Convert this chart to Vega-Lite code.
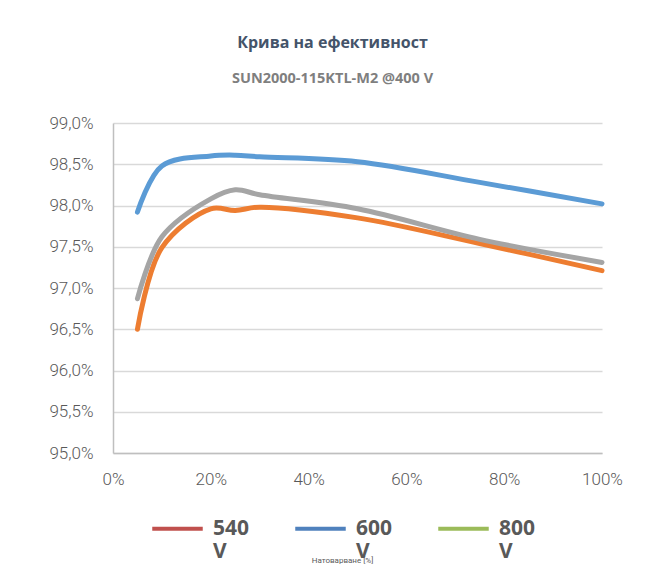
{
  "$schema": "https://vega.github.io/schema/vega-lite/v6.json",
  "width": 489,
  "height": 330,
  "autosize": {"type": "none"},
  "padding": {"left": 113, "top": 123, "right": 63, "bottom": 124},
  "background": "white",
  "title": {
    "text": "Крива на ефективност",
    "subtitle": "SUN2000-115KTL-M2 @400 V",
    "anchor": "middle",
    "frame": "group",
    "dx": -25,
    "offset": 29,
    "font": "Open Sans",
    "fontSize": 16,
    "fontWeight": "bold",
    "color": "#44546A",
    "subtitleFont": "Open Sans",
    "subtitleFontSize": 14.5,
    "subtitleFontWeight": "bold",
    "subtitleColor": "#7F7F7F",
    "subtitlePadding": 21
  },
  "data": {
    "values": [
      {"load": 5, "eff": 97.92, "series": "540 V"},
      {"load": 10, "eff": 98.48, "series": "540 V"},
      {"load": 20, "eff": 98.6, "series": "540 V"},
      {"load": 25, "eff": 98.61, "series": "540 V"},
      {"load": 30, "eff": 98.59, "series": "540 V"},
      {"load": 50, "eff": 98.53, "series": "540 V"},
      {"load": 75, "eff": 98.28, "series": "540 V"},
      {"load": 100, "eff": 98.02, "series": "540 V"},
      {"load": 5, "eff": 96.5, "series": "600 V"},
      {"load": 10, "eff": 97.49, "series": "600 V"},
      {"load": 20, "eff": 97.96, "series": "600 V"},
      {"load": 25, "eff": 97.94, "series": "600 V"},
      {"load": 30, "eff": 97.98, "series": "600 V"},
      {"load": 50, "eff": 97.85, "series": "600 V"},
      {"load": 75, "eff": 97.54, "series": "600 V"},
      {"load": 100, "eff": 97.21, "series": "600 V"},
      {"load": 5, "eff": 96.87, "series": "800 V"},
      {"load": 10, "eff": 97.62, "series": "800 V"},
      {"load": 20, "eff": 98.08, "series": "800 V"},
      {"load": 25, "eff": 98.19, "series": "800 V"},
      {"load": 30, "eff": 98.13, "series": "800 V"},
      {"load": 50, "eff": 97.96, "series": "800 V"},
      {"load": 75, "eff": 97.59, "series": "800 V"},
      {"load": 100, "eff": 97.31, "series": "800 V"}
    ]
  },
  "encoding": {
    "x": {
      "field": "load",
      "type": "quantitative",
      "scale": {"domain": [0, 100], "nice": false},
      "axis": {
        "values": [0, 20, 40, 60, 80, 100],
        "labelExpr": "datum.value + '%'",
        "labelFlush": false,
        "grid": false,
        "title": "Натоварване [%]",
        "titleFontSize": 8,
        "titleFontWeight": "normal",
        "titleColor": "#595959",
        "titleFont": "Roboto",
        "titleX": 229,
        "titleY": 103,
        "titleAlign": "center",
        "titleBaseline": "top",
        "labelPadding": 18
      }
    },
    "y": {
      "field": "eff",
      "type": "quantitative",
      "scale": {"domain": [95, 99], "nice": false, "zero": false},
      "axis": {
        "values": [95, 95.5, 96, 96.5, 97, 97.5, 98, 98.5, 99],
        "labelExpr": "replace(format(datum.value, '.1f'), '.', ',') + '%'",
        "grid": true,
        "title": null,
        "labelPadding": 20
      }
    }
  },
  "layer": [
    {
      "mark": {"type": "line", "opacity": 0, "strokeWidth": 4},
      "encoding": {
        "color": {
          "field": "series",
          "type": "nominal",
          "scale": {"domain": ["540 V", "600 V", "800 V"], "range": ["#C0504D", "#4F81BD", "#9BBB59"]},
          "legend": {
            "title": null,
            "orient": "none",
            "legendX": 37,
            "legendY": 378,
            "direction": "horizontal",
            "columns": 3,
            "symbolType": "stroke",
            "symbolSize": 2550,
            "symbolStrokeWidth": 4,
            "symbolOpacity": 1,
            "labelExpr": "split(datum.label, ' ')",
            "labelFont": "Open Sans",
            "labelFontSize": 21,
            "labelFontWeight": "bold",
            "labelColor": "#595959",
            "labelBaseline": "middle",
            "labelOffset": 8,
            "columnPadding": 37
          }
        }
      }
    },
    {
      "mark": {"type": "line", "strokeWidth": 5, "interpolate": "catmull-rom", "strokeCap": "round", "strokeJoin": "round"},
      "encoding": {
        "stroke": {
          "field": "series",
          "type": "nominal",
          "scale": {"domain": ["540 V", "600 V", "800 V"], "range": ["#5B9BD5", "#ED7D31", "#A5A5A5"]},
          "legend": null
        }
      }
    }
  ],
  "resolve": {"scale": {"color": "independent", "stroke": "independent"}},
  "config": {
    "view": {"stroke": null},
    "axis": {
      "domainColor": "#BFBFBF",
      "domainWidth": 1.5,
      "ticks": false,
      "gridColor": "#D9D9D9",
      "gridWidth": 1.5,
      "labelColor": "#595959",
      "labelFont": "Roboto",
      "labelFontSize": 17,
      "labelFontWeight": 300
    }
  }
}
